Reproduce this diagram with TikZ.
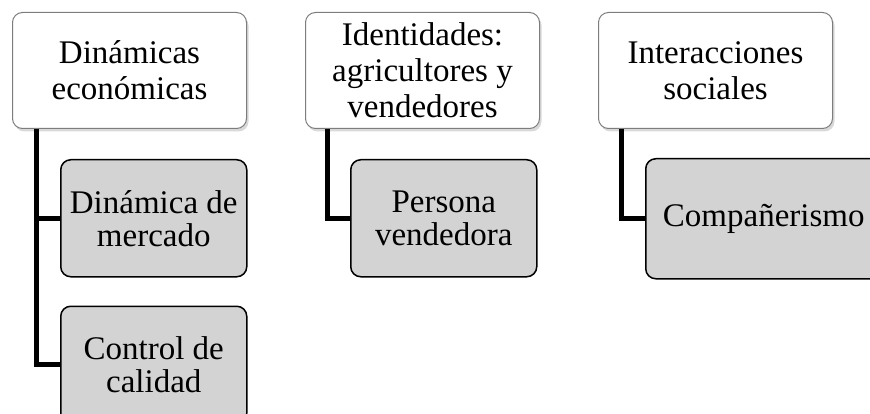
\documentclass[tikz,border=0pt]{standalone}
\usepackage{fontspec}
\setmainfont{Liberation Serif}
\usetikzlibrary{positioning,shadows}
\definecolor{subgray}{RGB}{211,211,211}
\definecolor{topline}{RGB}{125,125,125}
\begin{document}
\begin{tikzpicture}[x=1pt, y=-1pt, node distance={58pt},
  main/.style = {draw=topline, fill=white, rounded corners=10pt, line width=1pt, minimum width=234pt, minimum height=116pt, align=center, inner sep=2pt, font=\fontsize{33}{36}\selectfont, drop shadow={shadow xshift=2pt, shadow yshift=-3pt, opacity=0.3}},
  sub/.style = {draw=black, fill=subgray, rounded corners=10pt, line width=1.5pt, minimum width=186pt, minimum height=117pt, align=center, inner sep=2pt, font=\fontsize{33}{33}\selectfont},
  link/.style = {line width=5pt}]
\clip (0,0) rectangle (870,414);
\useasboundingbox (0,0) rectangle (870,414);

\node[main, anchor=north west] (1) at (12,12) {Dinámicas\\económicas};
\node[main] (2) [right=of 1] {Identidades:\\agricultores y\\vendedores};
\node[main] (3) [right=of 2] {Interacciones\\sociales};

\node[sub] (1a) [below=30pt of 1.south west, anchor=north west, xshift=48pt] {Dinámica de\\mercado};
\node[sub] (1b) [below=28pt of 1a] {Control de\\calidad};
\node[sub] (2a) [below=30pt of 2.south west, anchor=north west, xshift=45pt] {Persona\\vendedora};
\node[sub, minimum width=236pt, minimum height=120pt] (3a) [below=29pt of 3.south west, anchor=north west, xshift=47pt] {Compañerismo};

\draw[link] ([xshift=24pt]1.south west) |- (1a.west);
\draw[link] ([xshift=24pt]1.south west) |- (1b.west);
\draw[link] ([xshift=22pt]2.south west) |- (2a.west);
\draw[link] ([xshift=23pt]3.south west) |- (3a.west);

\end{tikzpicture}
\end{document}
